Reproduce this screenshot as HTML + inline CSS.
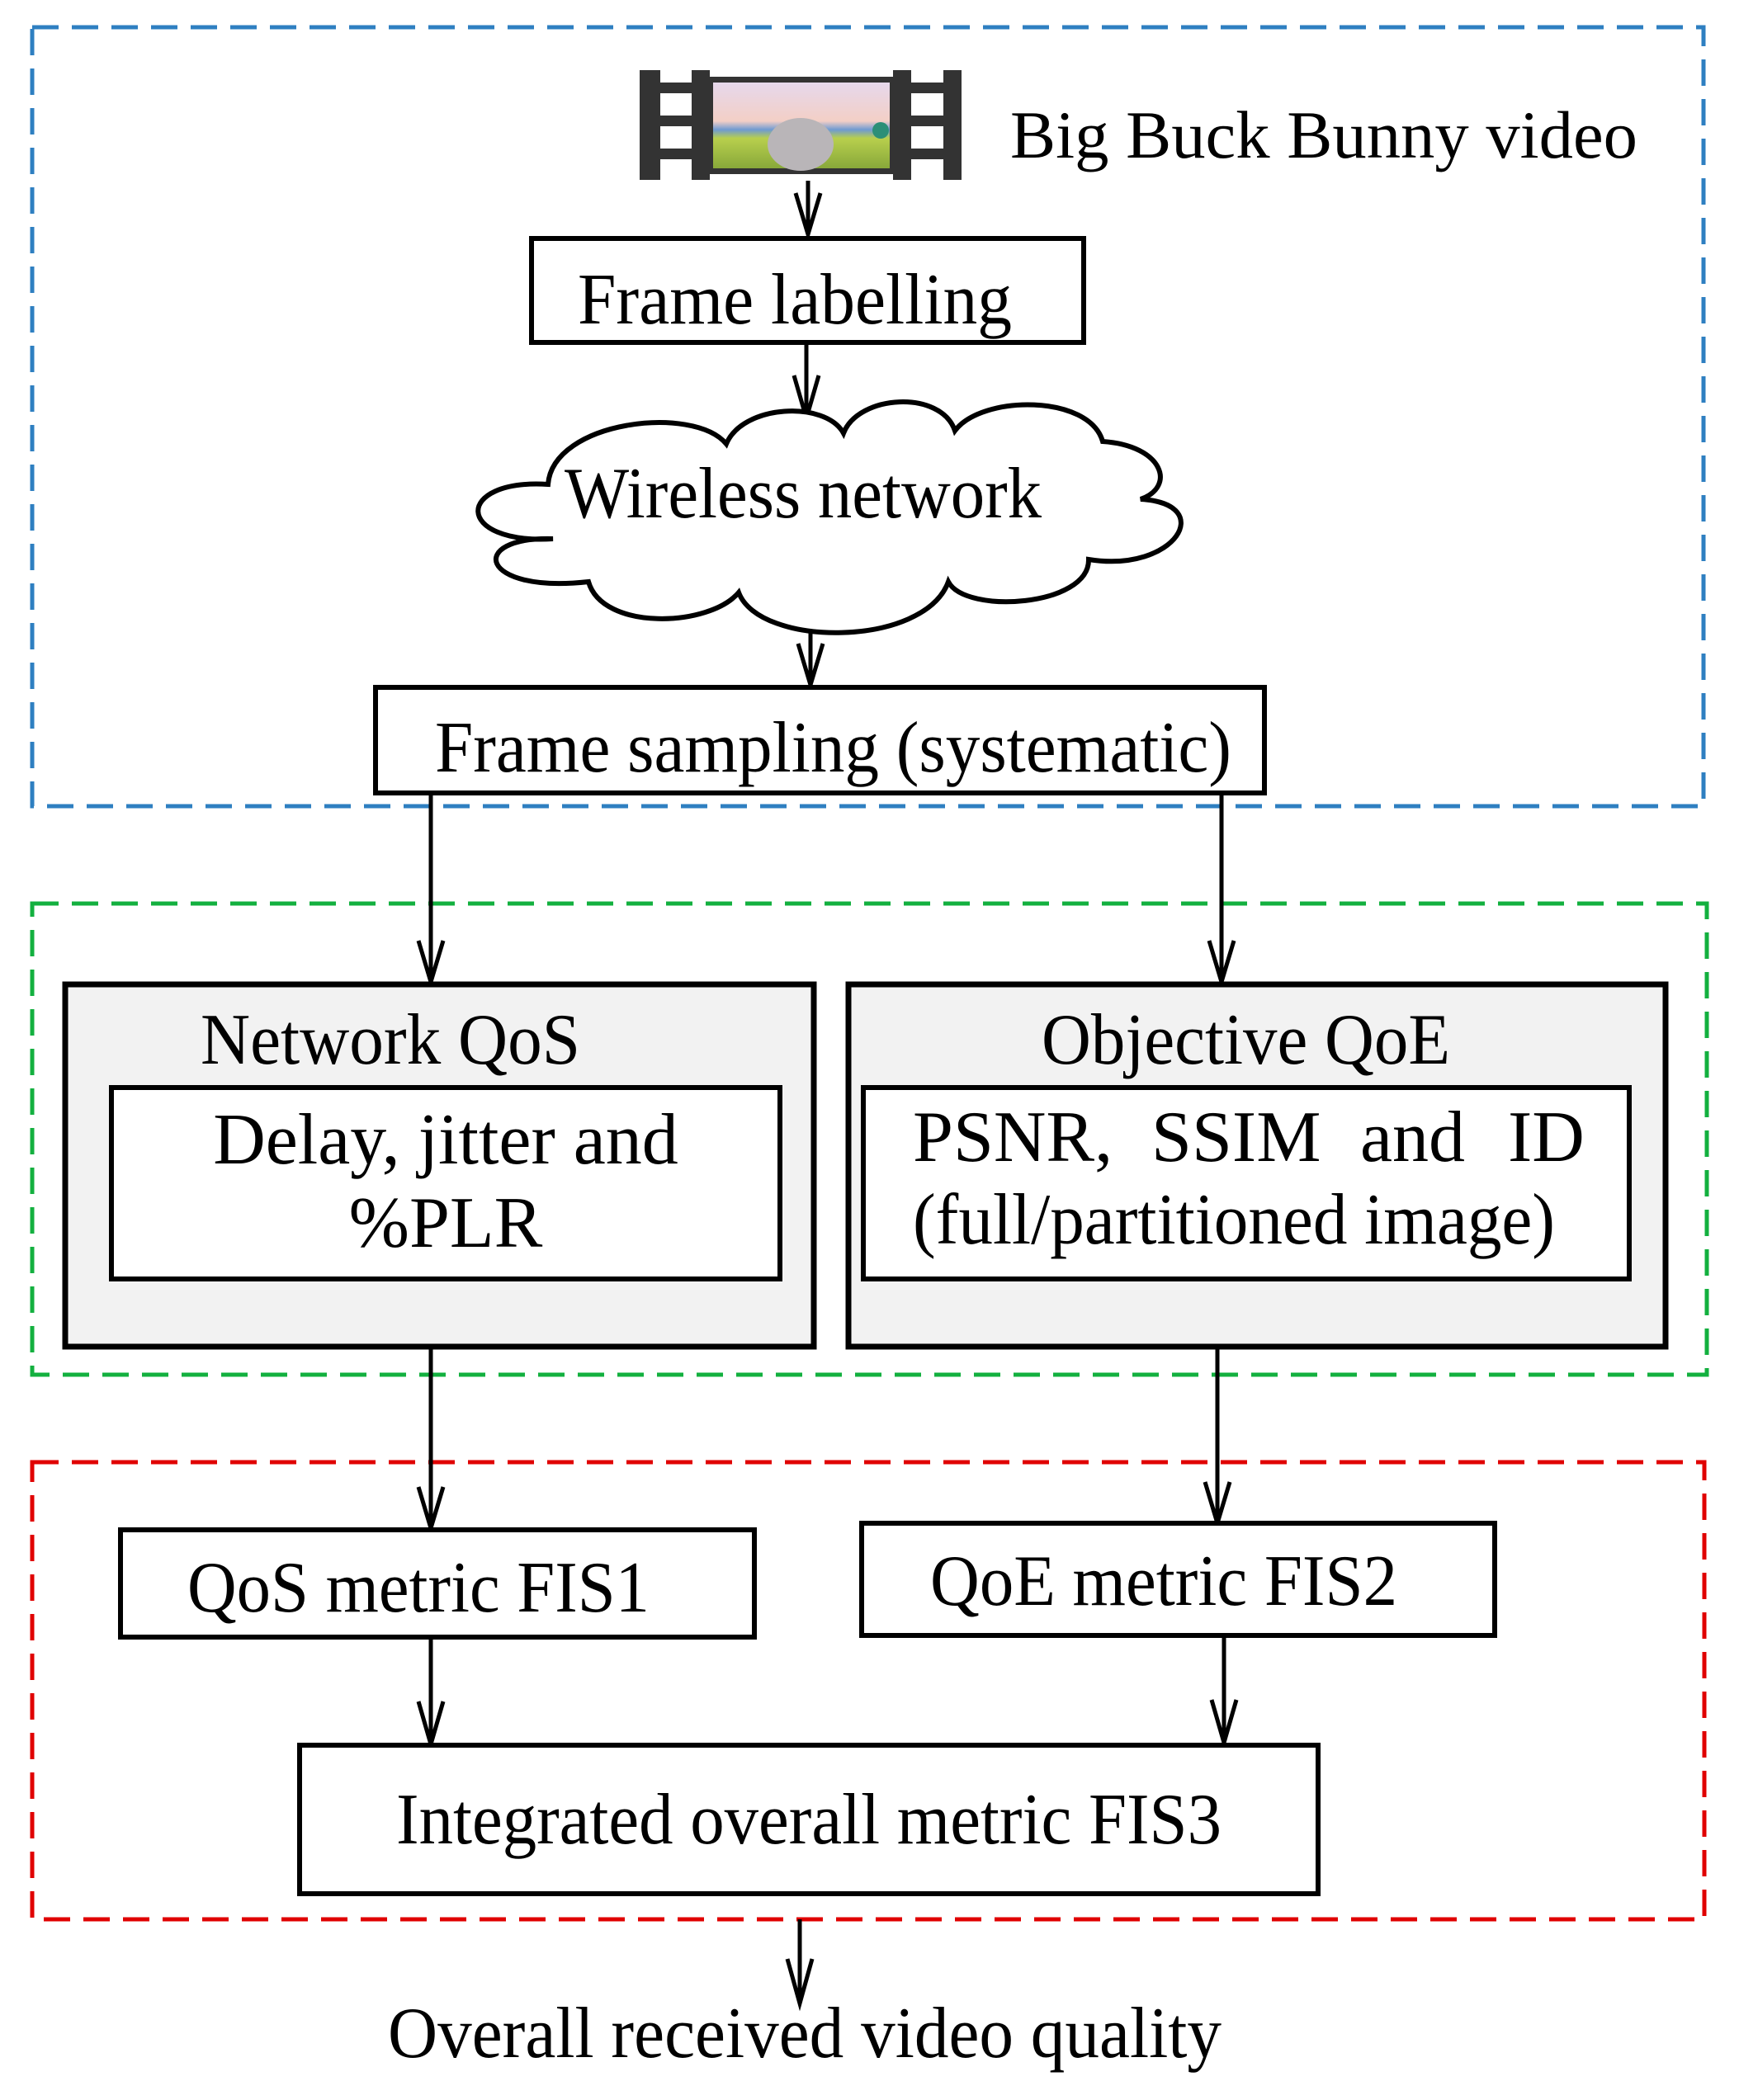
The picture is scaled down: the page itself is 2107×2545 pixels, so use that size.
<!DOCTYPE html>
<html><head><meta charset="utf-8"><style>
html,body{margin:0;padding:0;background:#fff}
svg{display:block}
text{font-family:"Liberation Serif","Times New Roman",serif;fill:#000}
</style></head><body>
<svg width="2107" height="2545" viewBox="0 0 2107 2545" xmlns="http://www.w3.org/2000/svg">
<rect width="2107" height="2545" fill="#fff"/>
<rect x="39" y="33" width="2025" height="944" fill="none" stroke="#2e7fc1" stroke-width="5" stroke-dasharray="32,16"/>
<rect x="39" y="1095" width="2029" height="571" fill="none" stroke="#13b03f" stroke-width="5" stroke-dasharray="32,16"/>
<rect x="39" y="1772" width="2026" height="554" fill="none" stroke="#e00000" stroke-width="5" stroke-dasharray="32,16"/>

<g>
<rect x="775" y="85" width="25" height="133" fill="#333"/>
<rect x="838" y="85" width="22" height="133" fill="#333"/>
<rect x="775" y="100" width="85" height="13" fill="#333"/>
<rect x="775" y="140" width="85" height="13" fill="#333"/>
<rect x="775" y="180" width="85" height="13" fill="#333"/>
<rect x="1082" y="85" width="22" height="133" fill="#333"/>
<rect x="1143" y="85" width="22" height="133" fill="#333"/>
<rect x="1082" y="100" width="83" height="13" fill="#333"/>
<rect x="1082" y="140" width="83" height="13" fill="#333"/>
<rect x="1082" y="180" width="83" height="13" fill="#333"/>
<rect x="858" y="93" width="226" height="118" fill="#333"/>
<defs><linearGradient id="sky" x1="0" y1="0" x2="0" y2="1">
<stop offset="0" stop-color="#e6d8ec"/><stop offset="0.45" stop-color="#f3cfc6"/>
<stop offset="0.55" stop-color="#6f9ad2"/><stop offset="0.65" stop-color="#b8cf4d"/><stop offset="1" stop-color="#88a83a"/></linearGradient></defs>
<rect x="864" y="100" width="214" height="104" fill="url(#sky)"/>
<ellipse cx="970" cy="175" rx="40" ry="32" fill="#b9b5b8"/>
<circle cx="1067" cy="158" r="10" fill="#2c8f77"/>
</g>
<text x="1224" y="191" font-size="82" textLength="760" lengthAdjust="spacingAndGlyphs">Big Buck Bunny video</text>

<g stroke="#000" stroke-width="5" fill="none">
<path d="M979 219V284M964 234L979 284L994 234"/>
<path d="M977 415V507M962 455L977 507L992 455"/>
<path d="M982 754V830M967 780L982 830L997 780"/>
<path d="M522 961V1190M507 1140L522 1190L537 1140"/>
<path d="M1480 961V1190M1465 1140L1480 1190L1495 1140"/>
<path d="M522 1632V1852M507 1802L522 1852L537 1802"/>
<path d="M1475 1632V1846M1460 1796L1475 1846L1490 1796"/>
<path d="M522 1984V2114M507 2062L522 2114L537 2062"/>
<path d="M1483 1982V2112M1468 2060L1483 2112L1498 2060"/>
<path d="M969 2326V2428M954 2374L969 2428L984 2374"/>
</g>

<rect x="644" y="289" width="669" height="126" fill="#fff" stroke="#000" stroke-width="6"/>
<text x="700" y="392" font-size="88" textLength="526" lengthAdjust="spacingAndGlyphs">Frame labelling</text>

<path d="M670 653 C550 660 550 580 664 587 C670 510 840 490 880 538 C900 490 1000 485 1022 525 C1040 478 1140 472 1157 522 C1190 478 1320 478 1336 535 C1410 540 1425 590 1382 605 C1475 610 1425 695 1319 678 C1320 735 1170 745 1149 705 C1120 785 920 785 895 718 C860 760 730 765 713 705 C580 720 565 650 670 653 Z" fill="#fff" stroke="#000" stroke-width="6"/>
<text x="684" y="627" font-size="88" textLength="578" lengthAdjust="spacingAndGlyphs">Wireless network</text>

<rect x="455" y="833" width="1077" height="128" fill="#fff" stroke="#000" stroke-width="6"/>
<text x="527" y="935" font-size="88" textLength="965" lengthAdjust="spacingAndGlyphs">Frame sampling (systematic)</text>

<rect x="79" y="1193" width="907" height="439" fill="#f2f2f2" stroke="#000" stroke-width="7"/>
<text x="243" y="1289" font-size="88" textLength="460" lengthAdjust="spacingAndGlyphs">Network QoS</text>
<rect x="135" y="1318" width="810" height="232" fill="#fff" stroke="#000" stroke-width="6"/>
<text x="540" y="1410" font-size="88" text-anchor="middle">Delay, jitter and</text>
<text x="540" y="1511" font-size="88" text-anchor="middle">%PLR</text>

<rect x="1028" y="1193" width="990" height="439" fill="#f2f2f2" stroke="#000" stroke-width="7"/>
<text x="1262" y="1289" font-size="88" textLength="495" lengthAdjust="spacingAndGlyphs">Objective QoE</text>
<rect x="1046" y="1318" width="928" height="232" fill="#fff" stroke="#000" stroke-width="6"/>
<text x="1106" y="1407" font-size="88">PSNR,</text>
<text x="1395" y="1407" font-size="88">SSIM</text>
<text x="1648" y="1407" font-size="88">and</text>
<text x="1827" y="1407" font-size="88">ID</text>
<text x="1106" y="1507" font-size="88" textLength="778" lengthAdjust="spacingAndGlyphs">(full/partitioned image)</text>

<rect x="146" y="1854" width="768" height="130" fill="#fff" stroke="#000" stroke-width="6"/>
<text x="227" y="1953" font-size="88" textLength="560" lengthAdjust="spacingAndGlyphs">QoS metric FIS1</text>
<rect x="1044" y="1846" width="767" height="136" fill="#fff" stroke="#000" stroke-width="6"/>
<text x="1127" y="1945" font-size="88" textLength="566" lengthAdjust="spacingAndGlyphs">QoE metric FIS2</text>

<rect x="363" y="2115" width="1234" height="180" fill="#fff" stroke="#000" stroke-width="6"/>
<text x="480" y="2234" font-size="88" textLength="1000" lengthAdjust="spacingAndGlyphs">Integrated overall metric FIS3</text>

<text x="470" y="2493" font-size="88" textLength="1010" lengthAdjust="spacingAndGlyphs">Overall received video quality</text>
</svg>
</body></html>
